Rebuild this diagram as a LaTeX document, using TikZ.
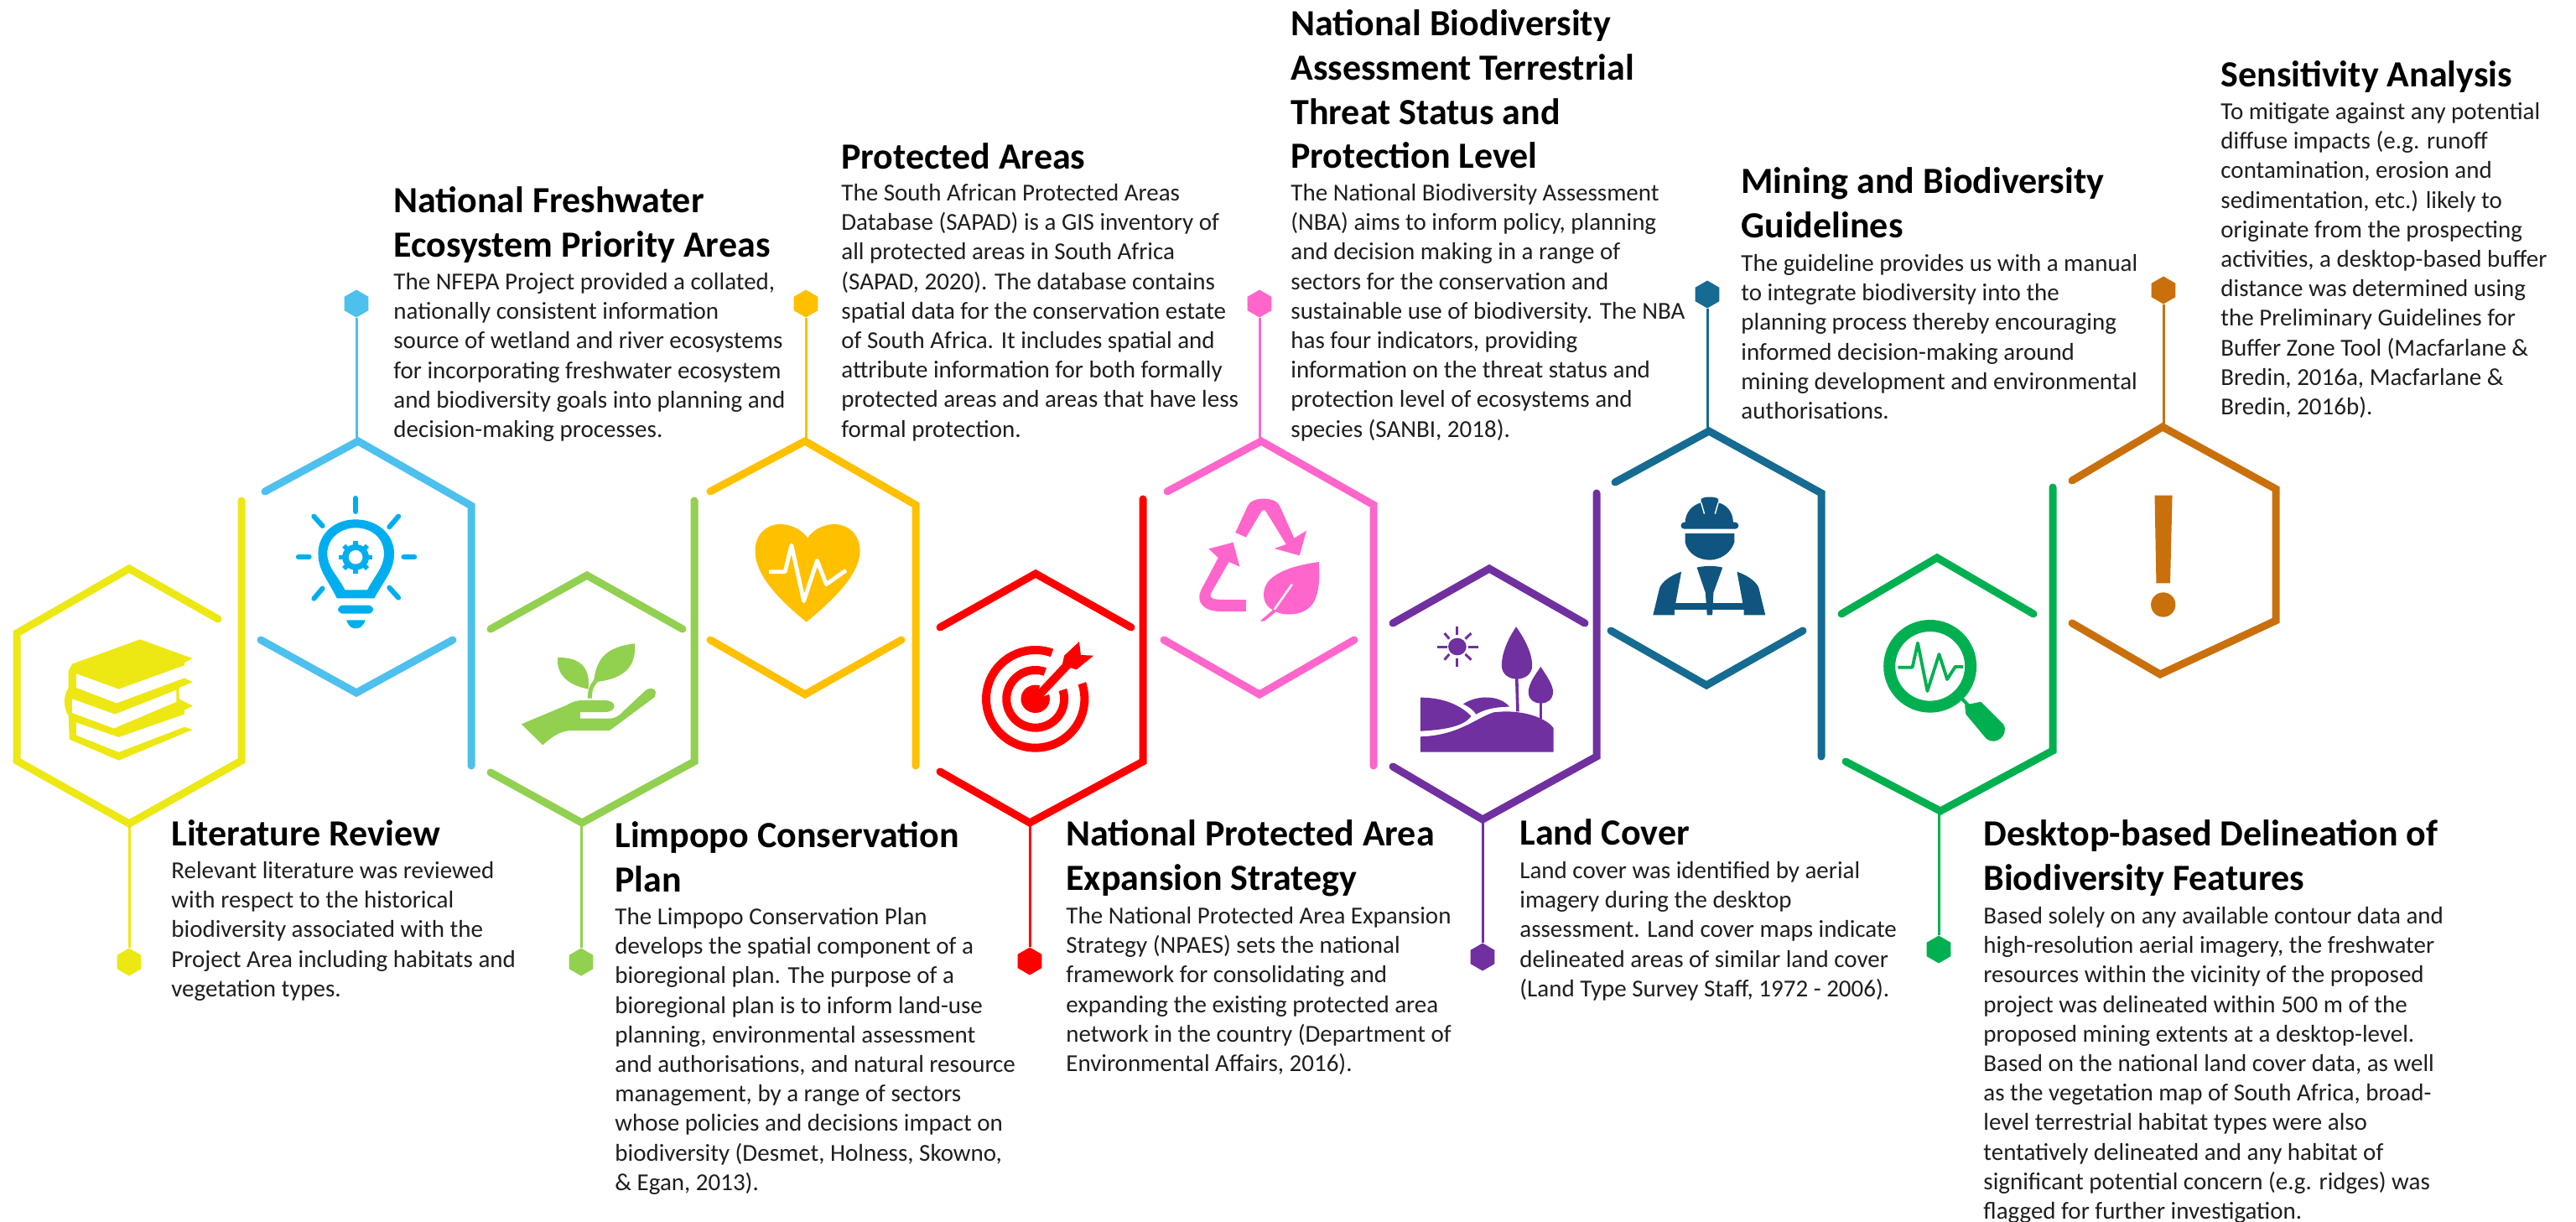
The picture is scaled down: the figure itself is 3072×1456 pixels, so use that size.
\documentclass[tikz,border=0pt]{standalone}
\usepackage{fontspec}
\setmainfont{Carlito}
\usetikzlibrary{shapes.geometric}
\definecolor{cyel}{HTML}{EDE813}
\definecolor{cblu}{HTML}{4DC0EE}
\definecolor{cblui}{HTML}{00AEEF}
\definecolor{cgrn}{HTML}{92D050}
\definecolor{cora}{HTML}{FFC000}
\definecolor{cred}{HTML}{FF0000}
\definecolor{cpnk}{HTML}{FF66CC}
\definecolor{cpur}{HTML}{7030A0}
\definecolor{ctea}{HTML}{156B91}
\definecolor{cteai}{HTML}{0F5580}
\definecolor{cgr2}{HTML}{00B050}
\definecolor{cbrn}{HTML}{C9700C}
\definecolor{cbody}{HTML}{1E1E1E}
\tikzset{
 hexa/.style={line width=4.5pt,line cap=round,line join=miter,miter limit=10},
 conn/.style={line width=1.5pt},
 hdot/.style={regular polygon,regular polygon sides=6,shape border rotate=30,minimum size=16.5pt,inner sep=0pt},
 ttl/.style={anchor=north west,inner sep=0pt,align=left,yshift=18pt,text=black,font=\fontsize{22}{26.4}\selectfont\bfseries},
 bdy/.style={anchor=north west,inner sep=0pt,align=left,yshift=12pt,text=cbody,font=\fontsize{14.5}{17.6}\selectfont},
 zA/.style={shift={(0,500)},xscale=0.63776,yscale=0.33333},
 zB/.style={shift={(1000,500)},xscale=0.63776,yscale=0.33333},
 zC/.style={shift={(2000,500)},xscale=0.63776,yscale=0.33333},
}
\newcommand{\blk}[6]{%
 \node[ttl] (t#1) at (#2,#3) {\vrule height 18pt width 0pt\relax #5};
 \node[bdy] (b#1) at (#2,#4) {\vrule height 12pt width 0pt\relax #6};
}
\begin{document}
\begin{tikzpicture}[x=0.5pt,y=-0.5pt]
\useasboundingbox (0,0) rectangle (3072,1456);
% ---------- connectors
\foreach \i/\c/\ax/\ay/\dy in {1/cyel/154/982/1147,2/cblu/425/526/362,3/cgrn/693/981/1147,4/cora/961/526/362,5/cred/1228/981/1146,6/cpnk/1502/526/362,7/cpur/1768/977/1141,8/ctea/2036/514/351,9/cgr2/2312/967/1132,10/cbrn/2580/509/346}{
 \coordinate (ap\i) at (\ax,\ay);
 \node[hdot,fill=\c] (dot\i) at (\ax,\dy) {};
 \draw[conn,\c] (ap\i) -- (dot\i);
}
% ---------- hexagons
\draw[hexa,cyel] (260,738) -- (154,678) -- (20,755) -- (20,907) -- (154,982) -- (288,907) -- (288,597);
\draw[hexa,cblu] (316,586) -- (427,526) -- (562,603) -- (562,913);
\draw[hexa,cblu] (311,763) -- (425,826) -- (540,763);
\draw[hexa,cgrn] (585,750) -- (700,686) -- (814,750);
\draw[hexa,cgrn] (585,921) -- (694,981) -- (828,908) -- (828,597);
\draw[hexa,cora] (847,586) -- (960,526) -- (1092,602) -- (1092,913);
\draw[hexa,cora] (847,763) -- (960,828) -- (1075,763);
\draw[hexa,cred] (1121,748) -- (1235,684) -- (1349,748);
\draw[hexa,cred] (1121,920) -- (1228,981) -- (1363,908) -- (1363,595);
\draw[hexa,cpnk] (1392,586) -- (1504,526) -- (1638,602) -- (1638,913);
\draw[hexa,cpnk] (1388,763) -- (1502,828) -- (1615,763);
\draw[hexa,cpur] (1661,743) -- (1776,678) -- (1890,743);
\draw[hexa,cpur] (1661,914) -- (1768,977) -- (1904,902) -- (1904,588);
\draw[hexa,ctea] (1926,575) -- (2038,514) -- (2172,588) -- (2172,902);
\draw[hexa,ctea] (1921,752) -- (2035,817) -- (2150,752);
\draw[hexa,cgr2] (2196,732) -- (2310,665) -- (2425,732);
\draw[hexa,cgr2] (2201,908) -- (2314,967) -- (2448,895) -- (2448,581);
\draw[hexa,cbrn] (2471,573) -- (2579,509) -- (2714,583) -- (2714,740) -- (2576,804) -- (2471,743);
% ---------- books
\begin{scope}[zA]
\fill[cyel] (135,875) -- (262,787) -- (360,855) -- (345,870) -- (345,925) -- (360,940) -- (335,960) -- (335,1000) -- (360,1025) -- (345,1040) -- (345,1100) -- (360,1110) -- (222,1220) -- (130,1145) -- (128,1060) .. controls (118,1030) and (118,990) .. (128,960) -- (128,900) -- cycle;
\fill[white] (143,910) -- (222,965) -- (345,880) -- (345,925) -- (218,1015) -- (143,960) -- cycle;
\fill[white] (135,1000) -- (215,1055) -- (330,968) -- (330,1010) -- (213,1105) -- (135,1050) -- cycle;
\fill[white] (143,1085) -- (222,1137) -- (345,1055) -- (345,1100) -- (222,1190) -- (143,1130) -- cycle;
% bulb
\fill[cblui,even odd rule] (630,640) .. controls (612,570) and (595,540) .. (595,480) .. controls (595,410) and (625,358) .. (665,358) .. controls (705,358) and (737,410) .. (737,480) .. controls (737,540) and (720,570) .. (700,640) -- cycle
 (645,610) -- (687,610) .. controls (700,560) and (718,530) .. (718,480) .. controls (718,425) and (695,388) .. (665,388) .. controls (637,388) and (612,425) .. (612,480) .. controls (612,530) and (632,560) .. (645,610) -- cycle;
\fill[cblui,rounded corners=3pt] (632,665) rectangle (698,695);
\fill[cblui] (648,718) -- (683,718) .. controls (680,740) and (672,748) .. (665,748) .. controls (658,748) and (651,740) .. (648,718) -- cycle;
\begin{scope}[line width=3pt,line cap=round,cblui]
\draw (665,282) -- (665,330);
\draw (558,492) -- (578,492);
\draw (755,492) -- (775,492);
\draw (587,347) -- (603,381);
\draw (745,347) -- (728,385);
\draw (603,605) -- (587,641);
\draw (728,602) -- (745,638);
\end{scope}
\foreach \a in {0,45,...,315}{\draw[cblui,line width=2.8pt] (665,493) -- ({665+31*cos(\a)},{493+58*sin(\a)});}
\fill[cblui] (665,493) ellipse [x radius=25,y radius=46];
\fill[white] (665,493) ellipse [x radius=13,y radius=25];
% plant
\fill[cgrn] (1043,852) .. controls (1085,850) and (1105,890) .. (1100,965) .. controls (1060,950) and (1040,910) .. cycle;
\fill[cgrn] (1187,802) .. controls (1190,880) and (1170,930) .. (1110,940) .. controls (1115,860) and (1130,815) .. cycle;
\draw[cgrn,line width=2.5pt] (1120,925) .. controls (1105,950) and (1103,970) .. (1103,998);
\fill[cgrn] (975,1090) -- (1060,1022) .. controls (1070,1010) and (1078,1005) .. (1090,1005) -- (1130,1005) .. controls (1155,1005) and (1155,1047) .. (1130,1047) -- (1085,1047) -- (1085,1070) -- (1140,1070) .. controls (1150,1070) and (1158,1060) .. (1165,1045) -- (1208,968) .. controls (1215,958) and (1225,962) .. (1226,975) -- (1225,992) -- (1140,1113) -- (1070,1113) .. controls (1050,1113) and (1035,1130) .. (1015,1165) -- cycle;
% heart
\fill[cora] (1508,725) .. controls (1440,620) and (1412,540) .. (1412,470) .. controls (1412,410) and (1435,375) .. (1458,375) .. controls (1480,375) and (1500,395) .. (1510,425) .. controls (1520,395) and (1540,375) .. (1560,375) .. controls (1585,375) and (1608,410) .. (1608,470) .. controls (1608,540) and (1575,620) .. (1508,725) -- cycle;
\draw[white,line width=2.4pt,line join=round] (1438,545) -- (1468,545) -- (1480,450) -- (1503,650) -- (1528,505) -- (1545,590) -- (1582,540);
\end{scope}
% ---------- target, recycle, landscape
\begin{scope}[zB]
\draw[cred,line width=5pt] (368,1000) ellipse [x radius=92,y radius=175];
\draw[cred,line width=5pt] (368,1000) ellipse [x radius=54,y radius=103];
\fill[cred] (368,1000) ellipse [x radius=27,y radius=50];
\fill[white] (368,1000) -- (405,805) -- (485,805) -- (485,925) -- cycle;
\draw[cred,line width=5pt] (368,1000) -- (432,870);
\fill[cred] (450,795) -- (453,843) -- (477,845) -- (445,895) -- (418,880) -- (422,845) -- cycle;
\fill[cpnk] (742,405) -- (765,310) .. controls (772,275) and (818,275) .. (825,310) -- (852,425) -- (875,398) -- (862,487) -- (815,462) -- (837,447) -- (800,332) .. controls (798,322) and (792,322) .. (790,332) -- (762,422) -- cycle;
\fill[cpnk] (762,687) -- (715,687) .. controls (680,687) and (668,650) .. (678,610) -- (710,495) -- (692,463) -- (738,440) -- (750,527) -- (730,510) -- (697,620) .. controls (692,640) and (700,645) .. (720,645) -- (762,645) -- cycle;
\fill[cpnk] (898,510) .. controls (840,525) and (795,560) .. (795,625) .. controls (795,650) and (800,670) .. (812,682) -- (788,722) -- (796,722) -- (818,688) .. controls (835,705) and (880,705) .. (892,640) .. controls (900,600) and (900,550) .. (898,510) -- cycle;
\draw[white,line width=1.2pt] (815,680) -- (848,590);
\fill[cpur] (1157,813) ellipse [x radius=17,y radius=31];
\begin{scope}[line width=1.5pt,cpur]
\draw (1157,742) -- (1157,772);
\draw (1157,855) -- (1157,885);
\draw (1120,813) -- (1138,813);
\draw (1177,813) -- (1196,813);
\draw (1133,765) -- (1142,785);
\draw (1183,765) -- (1172,785);
\draw (1133,860) -- (1142,840);
\draw (1183,860) -- (1172,840);
\end{scope}
\fill[cpur] (1267,742) .. controls (1250,790) and (1240,840) .. (1240,880) .. controls (1240,945) and (1297,945) .. (1297,880) .. controls (1297,840) and (1285,790) .. (1267,742) -- cycle;
\draw[cpur,line width=1.8pt] (1268,920) -- (1270,1045);
\fill[cpur] (1313,885) .. controls (1300,920) and (1290,950) .. (1290,975) .. controls (1290,1030) and (1336,1030) .. (1336,975) .. controls (1336,950) and (1325,920) .. (1313,885) -- cycle;
\draw[cpur,line width=1.8pt] (1313,1010) -- (1313,1070);
\fill[cpur] (1088,1135) .. controls (1160,1130) and (1190,1070) .. (1225,1048) .. controls (1280,1035) and (1325,1070) .. (1337,1105) -- (1337,1190) -- (1088,1190) -- cycle;
\fill[cpur] (1088,995) .. controls (1140,995) and (1170,1035) .. (1183,1062) .. controls (1170,1095) and (1140,1110) .. (1088,1115) -- cycle;
\fill[cpur] (1168,1018) .. controls (1195,985) and (1235,985) .. (1255,1028) .. controls (1225,1028) and (1205,1040) .. (1192,1055) .. controls (1188,1040) and (1178,1028) .. (1168,1018) -- cycle;
\end{scope}
% ---------- worker, magnifier, exclamation
\begin{scope}[zC]
\fill[cteai] (15,372) .. controls (15,330) and (30,305) .. (45,298) -- (45,285) .. controls (50,275) and (72,275) .. (77,285) -- (77,298) .. controls (92,305) and (105,330) .. (105,372) -- cycle;
\fill[cteai,rounded corners=2pt] (7,368) rectangle (115,392);
\draw[white,line width=0.7pt] (45,298) -- (51,338);
\draw[white,line width=0.7pt] (77,298) -- (71,338);
\fill[cteai] (15,408) -- (107,408) -- (107,440) .. controls (100,480) and (80,503) .. (61,503) .. controls (40,503) and (20,480) .. (15,440) -- cycle;
\fill[cteai] (37,530) .. controls (50,523) and (72,523) .. (85,530) -- (68,620) -- (66,700) -- (56,700) -- (53,620) -- cycle;
\fill[cteai] (112,545) .. controls (135,560) and (150,585) .. (153,605) -- (165,700) -- (125,700) -- (125,680) -- cycle;
\fill[cteai] (8,545) .. controls (-15,560) and (-30,585) .. (-33,605) -- (-45,700) -- (-5,700) -- (-5,680) -- cycle;
\fill[cteai] (-5,658) rectangle (125,680);
\draw[cgr2,line width=7pt] (473,883) ellipse [x radius=76,y radius=145];
\draw[cgr2,line width=1.9pt,line join=round] (413,887) -- (440,887) -- (450,800) -- (468,972) -- (490,840) -- (505,930) -- (520,885) -- (535,885);
\draw[cgr2,line width=2pt] (528,990) -- (548,1030);
\fill[cgr2] (538,1022) -- (568,1010) -- (610,1090) .. controls (622,1130) and (595,1170) .. (578,1142) -- (540,1055) -- cycle;
\fill[cbrn] (893,272) -- (926,272) -- (922,586) -- (896,586) -- cycle;
\fill[cbrn] (909,663) ellipse [x radius=23,y radius=44];
\end{scope}
% ---------- texts
\blk{1}{204}{1008}{1047}{Literature Review}{Relevant literature was reviewed\\with respect to the historical\\biodiversity associated with the\\Project Area including habitats and\\vegetation types.}
\blk{2}{469}{253}{345}{National Freshwater\\Ecosystem Priority Areas}{The NFEPA Project provided a collated,\\nationally consistent information\\source of wetland and river ecosystems\\for incorporating freshwater ecosystem\\and biodiversity goals into planning and\\decision-making processes.}
\blk{3}{733}{1010}{1102}{Limpopo Conservation\\Plan}{The Limpopo Conservation Plan\\develops the spatial component of a\\bioregional plan. The purpose of a\\bioregional plan is to inform land-use\\planning, environmental assessment\\and authorisations, and natural resource\\management, by a range of sectors\\whose policies and decisions impact on\\biodiversity (Desmet, Holness, Skowno,\\\& Egan, 2013).}
\blk{4}{1003}{201}{239}{Protected Areas}{The South African Protected Areas\\Database (SAPAD) is a GIS inventory of\\all protected areas in South Africa\\(SAPAD, 2020). The database contains\\spatial data for the conservation estate\\of South Africa. It includes spatial and\\attribute information for both formally\\protected areas and areas that have less\\formal protection.}
\blk{5}{1271}{1008}{1101}{National Protected Area\\Expansion Strategy}{The National Protected Area Expansion\\Strategy (NPAES) sets the national\\framework for consolidating and\\expanding the existing protected area\\network in the country (Department of\\Environmental Affairs, 2016).}
\blk{6}{1539}{42}{239}{National Biodiversity\\Assessment Terrestrial\\Threat Status and\\Protection Level}{The National Biodiversity Assessment\\(NBA) aims to inform policy, planning\\and decision making in a range of\\sectors for the conservation and\\sustainable use of biodiversity. The NBA\\has four indicators, providing\\information on the threat status and\\protection level of ecosystems and\\species (SANBI, 2018).}
\blk{7}{1812}{1007}{1047}{Land Cover}{Land cover was identified by aerial\\imagery during the desktop\\assessment. Land cover maps indicate\\delineated areas of similar land cover\\(Land Type Survey Staff, 1972 - 2006).}
\blk{8}{2076}{230}{323}{Mining and Biodiversity\\Guidelines}{The guideline provides us with a manual\\to integrate biodiversity into the\\planning process thereby encouraging\\informed decision-making around\\mining development and environmental\\authorisations.}
\blk{9}{2365}{1008}{1101}{Desktop-based Delineation of\\Biodiversity Features}{Based solely on any available contour data and\\high-resolution aerial imagery, the freshwater\\resources within the vicinity of the proposed\\project was delineated within 500 m of the\\proposed mining extents at a desktop-level.\\Based on the national land cover data, as well\\as the vegetation map of South Africa, broad-\\level terrestrial habitat types were also\\tentatively delineated and any habitat of\\significant potential concern (e.g. ridges) was\\flagged for further investigation.}
\blk{10}{2648}{103}{142}{Sensitivity Analysis}{To mitigate against any potential\\diffuse impacts (e.g. runoff\\contamination, erosion and\\sedimentation, etc.) likely to\\originate from the prospecting\\activities, a desktop-based buffer\\distance was determined using\\the Preliminary Guidelines for\\Buffer Zone Tool (Macfarlane \&\\Bredin, 2016a, Macfarlane \&\\Bredin, 2016b).}
\end{tikzpicture}
\end{document}
